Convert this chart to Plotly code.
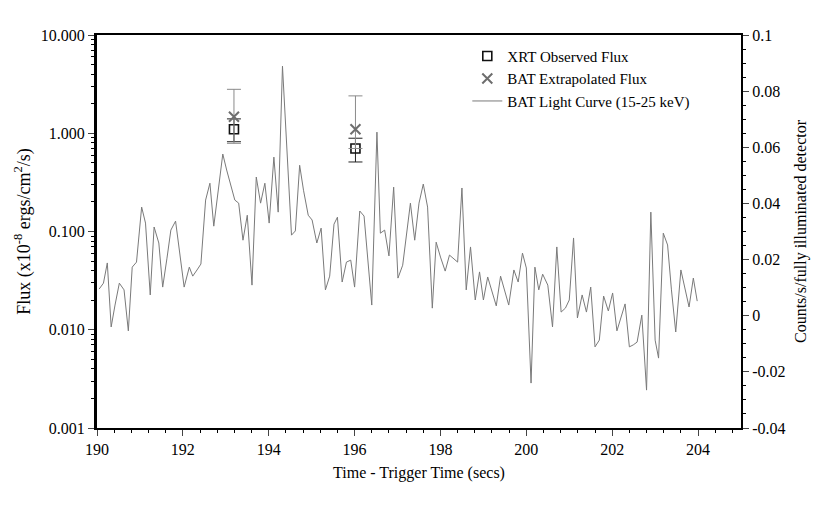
import plotly.graph_objects as go

# BAT light curve (15-25 keV), counts/s/fully illuminated detector
lc_time = [190.05, 190.15, 190.24, 190.33, 190.42, 190.52, 190.63, 190.73, 190.82, 190.92,
           191.04, 191.13, 191.24, 191.33, 191.44, 191.53, 191.63, 191.72, 191.83, 191.93,
           192.03, 192.15, 192.23, 192.33, 192.42, 192.53, 192.63, 192.72, 192.83, 192.93,
           193.02, 193.12, 193.21, 193.30, 193.40, 193.50, 193.61, 193.71, 193.81, 193.91,
           194.01, 194.12, 194.22, 194.32, 194.42, 194.53, 194.62, 194.72, 194.81, 194.92,
           195.01, 195.12, 195.22, 195.32, 195.42, 195.52, 195.60, 195.71, 195.81, 195.91,
           196.00, 196.12, 196.22, 196.31, 196.40, 196.52, 196.60, 196.70, 196.80, 196.91,
           197.01, 197.12, 197.21, 197.30, 197.40, 197.50, 197.60, 197.70, 197.81, 197.90,
           198.00, 198.11, 198.21, 198.30, 198.40, 198.50, 198.60, 198.70, 198.81, 198.91,
           199.00, 199.10, 199.20, 199.30, 199.40, 199.49, 199.59, 199.71, 199.81, 199.91,
           200.00, 200.11, 200.20, 200.29, 200.38, 200.50, 200.61, 200.71, 200.81, 200.91,
           201.00, 201.10, 201.19, 201.30, 201.40, 201.50, 201.60, 201.70, 201.80, 201.91,
           202.01, 202.11, 202.20, 202.30, 202.40, 202.49, 202.58, 202.69, 202.80, 202.90,
           203.00, 203.08, 203.19, 203.29, 203.38, 203.48, 203.60, 203.70, 203.79, 203.89,
           203.98]
lc_rate = [0.0095, 0.0116, 0.0188, -0.0040, 0.0038, 0.0116, 0.0092, -0.0054, 0.0173, 0.0191,
           0.0387, 0.0330, 0.0074, 0.0316, 0.0259, 0.0102, 0.0205, 0.0305, 0.0337, 0.0216,
           0.0102, 0.0173, 0.0141, 0.0163, 0.0184, 0.0412, 0.0472, 0.0319, 0.0465, 0.0576,
           0.0519, 0.0465, 0.0412, 0.0401, 0.0269, 0.0358, 0.0109, 0.0494, 0.0401, 0.0472,
           0.0330, 0.0565, 0.0369, 0.0889, 0.0590, 0.0287, 0.0302, 0.0536, 0.0447, 0.0358,
           0.0341, 0.0259, 0.0312, 0.0092, 0.0141, 0.0326, 0.0351, 0.0120, 0.0191, 0.0198,
           0.0102, 0.0373, 0.0355, 0.0198, 0.0038, 0.0654, 0.0294, 0.0305, 0.0213, 0.0458,
           0.0134, 0.0180, 0.0294, 0.0401, 0.0269, 0.0401, 0.0469, 0.0387, 0.0027, 0.0262,
           0.0209, 0.0159, 0.0216, 0.0205, 0.0191, 0.0455, 0.0092, 0.0245, 0.0056, 0.0156,
           0.0056, 0.0138, 0.0084, 0.0035, 0.0141, 0.0092, 0.0038, 0.0163, 0.0120, 0.0223,
           0.0170, -0.0240, 0.0173, 0.0092, 0.0148, 0.0109, -0.0040, 0.0245, 0.0013, 0.0027,
           0.0056, 0.0277, -0.0008, 0.0074, 0.0013, 0.0102, -0.0111, -0.0087, 0.0070, 0.0017,
           0.0081, -0.0054, -0.0008, 0.0042, -0.0111, -0.0104, -0.0094, 0.0002, -0.0265, 0.0369,
           -0.0087, -0.0151, 0.0294, 0.0252, 0.0092, -0.0058, 0.0163, 0.0092, 0.0031, 0.0134,
           0.0052]

# XRT observed flux (x1e-8 erg/cm2/s)
xrt_time = [193.19, 196.02]
xrt_flux = [1.10, 0.70]
xrt_upper = [1.40, 0.89]
xrt_lower = [0.82, 0.51]

# BAT extrapolated flux
bat_time = [193.19, 196.02]
bat_flux = [1.47, 1.10]
bat_upper = [2.80, 2.40]
bat_lower = [0.79, 0.70]

left_ticks = [10, 1, 0.1, 0.01, 0.001]
left_ticktext = ["10.000", "1.000", "0.100", "0.010", "0.001"]
left_minor = [m * d for d in [0.001, 0.01, 0.1, 1] for m in range(2, 10)]
right_ticks = [0.1, 0.08, 0.06, 0.04, 0.02, 0, -0.02, -0.04]
right_ticktext = ["0.1", "0.08", "0.06", "0.04", "0.02", "0", "-0.02", "-0.04"]
x_ticks = [190, 192, 194, 196, 198, 200, 202, 204]

FONT = "Liberation Serif, Times New Roman, serif"

fig = go.Figure()

fig.add_trace(go.Scatter(
    x=lc_time, y=lc_rate, mode="lines", name="BAT Light Curve (15-25 keV)",
    line=dict(color="#7a7a7a", width=1), yaxis="y", legendrank=3))

fig.add_trace(go.Scatter(
    x=xrt_time, y=xrt_flux, mode="markers", name="XRT Observed Flux",
    marker=dict(symbol="square-open", size=9, color="#111111", line=dict(width=1.6)),
    error_y=dict(type="data", symmetric=False,
                 array=[u - f for u, f in zip(xrt_upper, xrt_flux)],
                 arrayminus=[f - l for f, l in zip(xrt_flux, xrt_lower)],
                 color="#222222", thickness=1, width=7),
    yaxis="y2", legendrank=1))

fig.add_trace(go.Scatter(
    x=bat_time, y=bat_flux, mode="markers", name="BAT Extrapolated Flux",
    marker=dict(symbol="x-thin", size=10, color="#6e6e6e",
                line=dict(width=2, color="#6e6e6e")),
    error_y=dict(type="data", symmetric=False,
                 array=[u - f for u, f in zip(bat_upper, bat_flux)],
                 arrayminus=[f - l for f, l in zip(bat_flux, bat_lower)],
                 color="#8a8a8a", thickness=1, width=7),
    yaxis="y2", legendrank=2))

fig.update_layout(
    width=830, height=527,
    margin=dict(l=89, r=97, t=27, b=107),
    paper_bgcolor="white", plot_bgcolor="white",
    font=dict(family=FONT, size=16, color="black"),
    showlegend=True,
    legend=dict(x=0.575, y=0.988, xanchor="left", yanchor="top",
                bgcolor="rgba(0,0,0,0)", font=dict(family=FONT, size=15),
                tracegroupgap=0, itemwidth=30),
    xaxis=dict(range=[190, 205], tickvals=x_ticks, ticks="outside", ticklen=6,
               tickwidth=1, showline=True, linewidth=2, linecolor="black",
               mirror=True, showgrid=False, zeroline=False,
               tickfont=dict(size=16),
               minor=dict(dtick=0.4, tick0=190, ticks="outside", ticklen=3,
                          tickcolor="black", showgrid=False),
               title=dict(text="Time - Trigger Time (secs)", standoff=10,
                          font=dict(family=FONT, size=16))),
    yaxis=dict(range=[-0.04, 0.1], side="right", tickvals=right_ticks,
               ticktext=right_ticktext, ticks="outside", ticklen=6,
               showline=True, linewidth=2, linecolor="black", showgrid=False,
               zeroline=False, tickfont=dict(size=16),
               minor=dict(dtick=0.005, tick0=0, ticks="outside", ticklen=3,
                          tickcolor="black", showgrid=False),
               title=dict(text="Counts/s/fully illuminated detector", standoff=10,
                          font=dict(family=FONT, size=16))),
    yaxis2=dict(type="log", range=[-3, 1], side="left", overlaying="y",
                tickvals=left_ticks, ticktext=left_ticktext, ticks="outside",
                ticklen=6, showline=True, linewidth=3, linecolor="black",
                showgrid=False, zeroline=False, tickfont=dict(size=16),
                minor=dict(tickvals=left_minor, ticks="outside", ticklen=3,
                           tickcolor="black", showgrid=False),
                title=dict(text="Flux (x10<sup>-8</sup> ergs/cm<sup>2</sup>/s)",
                           standoff=6, font=dict(family=FONT, size=18))),
)

fig.write_html("out.html")
